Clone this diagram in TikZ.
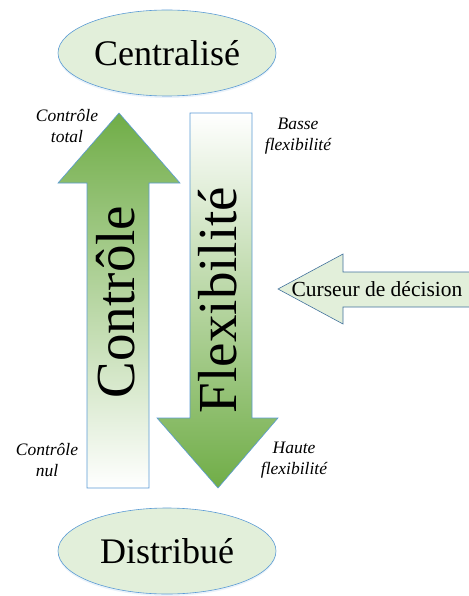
\documentclass[tikz,border=0pt]{standalone}
\usepackage{fontspec}
\setmainfont{Liberation Serif}
\usetikzlibrary{positioning,shapes.geometric,shadows}

\definecolor{ovalfill}{HTML}{E2EFDA}
\definecolor{edgeblue}{HTML}{5B9BD5}
\definecolor{darkblue}{HTML}{41719C}
\definecolor{leafgreen}{HTML}{70AD47}

\begin{document}
\begin{tikzpicture}[
        x=1pt, y=-1pt, % one unit per pixel, y pointing down
        % Define a style for the two ovals at the ends
        pole_oval/.style={ellipse,draw=edgeblue,fill=ovalfill,line width=0.6pt,
            minimum width=218pt,minimum height=86pt,
            drop shadow={fill=edgeblue!50,opacity=0.25,shadow xshift=0pt,shadow yshift=-2pt},
            font=\fontsize{36}{40}\selectfont},
        % Define a style for the two big vertical arrows
        big_arrow/.style={draw=edgeblue,line width=0.6pt},
        % Define a style for the words written along the big arrows
        big_text/.style={rotate=90,inner sep=0pt,font=\fontsize{55}{60}\selectfont},
        % Define a style for the small italic labels
        side_label/.style={align=center,font=\fontsize{17.5}{21}\selectfont\itshape}
    ]

    % Fix the size of the picture
    \useasboundingbox (0,0) rectangle (468,596);

    % The two extremes
    \node[pole_oval] (centralise) at (167,53) {Centralisé};
    \node[pole_oval] (distribue) at (167,551) {Distribué};

    % Upward arrow: control
    \shade[big_arrow,top color=leafgreen,bottom color=white]
        (87,488) -- (87,183) -- (58,183) -- (119,113) -- (180,183)
        -- (149,183) -- (149,488) -- cycle;
    \node[big_text] (ctrl_text) at (116,302) {Contrôle};

    % Downward arrow: flexibility
    \shade[big_arrow,top color=white,bottom color=leafgreen]
        (190,113) -- (252,113) -- (252,418) -- (278,418) -- (218,488)
        -- (157,418) -- (190,418) -- cycle;
    \node[big_text] (flex_text) at (218,300) {Flexibilité};

    % Decision cursor pointing at the arrows
    \draw[fill=ovalfill,draw=darkblue,line width=0.6pt]
        (278,289) -- (343,254) -- (343,272) -- (475,272) -- (475,307)
        -- (343,307) -- (343,324) -- cycle;
    \node[font=\fontsize{21.5}{24}\selectfont] (cursor) at (377,289) {Curseur de décision};

    % Labels at both ends of the arrows
    \node[side_label] (ctrl_total) at (67,126) {Contrôle\\total};
    \node[side_label] (flex_low) at (298,136) {Basse\\flexibilité};
    \node[side_label] (ctrl_none) at (47,460) {Contrôle\\nul};
    \node[side_label] (flex_high) at (294,460) {Haute\\flexibilité};

\end{tikzpicture}
\end{document}
